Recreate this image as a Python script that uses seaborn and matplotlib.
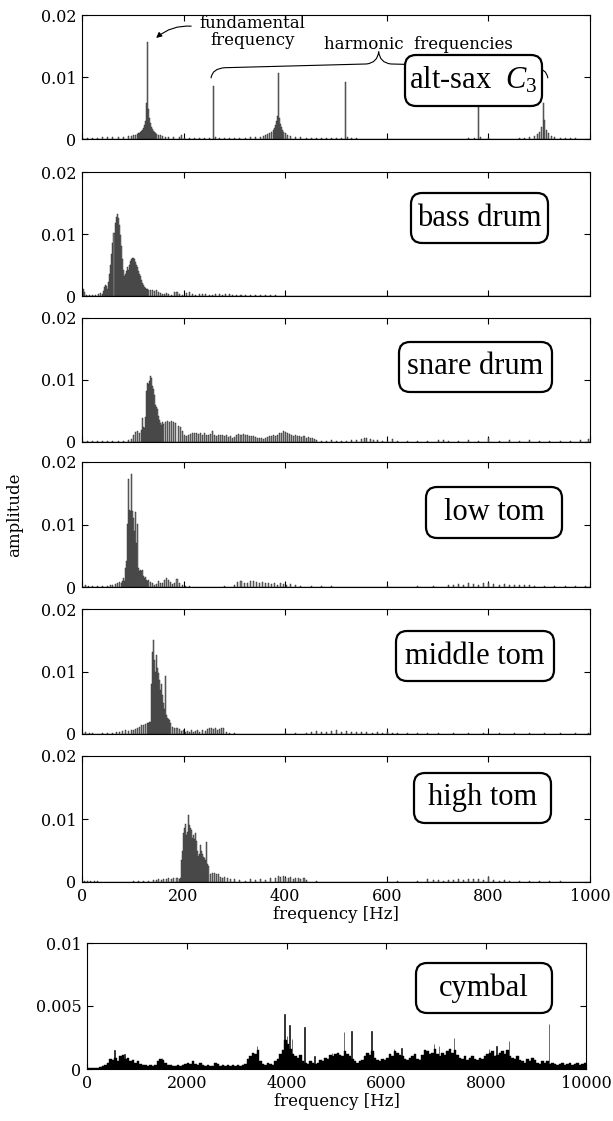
import numpy as np
import pandas as pd
import seaborn as sns
import matplotlib.pyplot as plt
from matplotlib.patches import FancyBboxPatch, PathPatch
from matplotlib.path import Path

# spectra: frequency [Hz] and amplitude in units of 1e-3

sax_freq = [0, 10, 20, 30, 40, 50, 60, 70, 80, 90,
            96, 100, 104, 108, 110, 112, 114, 116, 118, 120,
            122, 124, 126, 128, 130, 132, 134, 136, 138, 140,
            142, 144, 146, 150, 154, 158, 164, 170, 180, 190,
            194, 200, 210, 220, 230, 240, 250, 258, 262, 270,
            280, 290, 300, 310, 320, 330, 340, 350, 356, 360,
            364, 368, 372, 376, 378, 380, 382, 384, 386, 388,
            390, 392, 394, 396, 400, 404, 410, 420, 430, 440,
            450, 460, 470, 480, 490, 500, 510, 518, 522, 530,
            540, 560, 580, 600, 620, 640, 660, 680, 700, 720,
            740, 760, 772, 780, 784, 800, 820, 840, 860, 870,
            880, 890, 896, 900, 904, 908, 910, 914, 918, 924,
            930, 940, 950, 960, 970, 980, 990]
sax_amp = [0.2, 0.2, 0.2, 0.2, 0.25, 0.25, 0.3, 0.3, 0.35, 0.45,
           0.5, 0.6, 0.7, 0.8, 0.9, 1.0, 1.1, 1.3, 1.5, 1.8,
           2.2, 2.9, 5.8, 15.7, 4.8, 3.4, 2.6, 2.0, 1.6, 1.3,
           1.1, 0.9, 0.8, 0.7, 0.6, 0.5, 0.4, 0.35, 0.3, 0.25,
           0.6, 0.2, 0.15, 0.15, 0.1, 0.1, 0.1, 8.6, 0.3, 0.1,
           0.1, 0.1, 0.15, 0.15, 0.2, 0.25, 0.3, 0.4, 0.5, 0.6,
           0.8, 1.0, 1.2, 1.5, 1.8, 2.3, 2.9, 3.7, 10.7, 3.4,
           2.5, 1.9, 1.5, 1.2, 0.9, 0.7, 0.5, 0.4, 0.3, 0.2,
           0.15, 0.1, 0.1, 0.1, 0.1, 0.1, 0.2, 9.2, 0.4, 0.15,
           0.1, 0.05, 0.05, 0.05, 0.05, 0.05, 0.05, 0.05, 0.05, 0.05,
           0.05, 0.1, 0.2, 6.4, 0.3, 0.1, 0.05, 0.05, 0.1, 0.15,
           0.3, 0.5, 0.8, 1.2, 2.0, 5.8, 3.0, 1.5, 0.9, 0.5,
           0.3, 0.2, 0.15, 0.1, 0.1, 0.05, 0.05]

bass_freq = [2, 4, 8, 14, 20, 26, 32, 36, 40, 42,
             44, 46, 48, 50, 52, 54, 56, 58, 60, 62,
             64, 66, 68, 70, 72, 74, 76, 78, 80, 82,
             84, 86, 88, 90, 92, 94, 96, 98, 100, 102,
             104, 106, 108, 110, 112, 114, 116, 118, 120, 122,
             124, 126, 128, 130, 134, 138, 142, 146, 150, 154,
             158, 162, 166, 170, 176, 182, 186, 190, 196, 204,
             210, 216, 222, 230, 236, 242, 250, 256, 262, 270,
             276, 282, 290, 296, 304, 312, 320, 330, 340, 350,
             360, 370, 380]
bass_amp = [1.2, 0.6, 0.2, 0.2, 0.1, 0.2, 0.3, 0.5, 0.4, 0.8,
            1.4, 1.8, 1.6, 1.2, 2.2, 3.5, 5.0, 6.8, 8.5, 10.2,
            11.8, 12.8, 13.3, 12.6, 11.5, 9.8, 8.0, 6.0, 4.2, 3.2,
            3.5, 4.0, 4.6, 4.2, 5.0, 5.6, 6.0, 6.2, 6.1, 5.9,
            5.5, 5.0, 4.6, 4.0, 3.6, 3.2, 2.6, 2.1, 1.8, 1.5,
            1.3, 1.2, 1.1, 1.0, 0.9, 1.0, 0.8, 0.9, 0.6, 0.5,
            0.4, 0.3, 0.5, 0.3, 0.2, 0.6, 0.7, 0.4, 0.2, 0.5,
            0.6, 0.3, 0.1, 0.3, 0.4, 0.3, 0.2, 0.2, 0.3, 0.3,
            0.2, 0.3, 0.3, 0.2, 0.2, 0.2, 0.1, 0.1, 0.1, 0.1,
            0.1, 0.1, 0.1]

snare_freq = [0, 10, 20, 30, 40, 50, 60, 70, 80, 90,
              96, 100, 104, 108, 112, 116, 118, 120, 122, 124,
              126, 128, 130, 132, 134, 136, 138, 140, 142, 144,
              146, 148, 150, 152, 154, 156, 158, 160, 164, 168,
              172, 176, 180, 184, 188, 192, 196, 200, 204, 208,
              212, 216, 220, 224, 228, 232, 236, 240, 244, 248,
              252, 256, 260, 264, 268, 272, 276, 280, 284, 288,
              292, 296, 300, 304, 308, 312, 316, 320, 324, 328,
              332, 336, 340, 344, 348, 352, 356, 360, 364, 368,
              372, 376, 380, 384, 388, 392, 396, 400, 404, 408,
              412, 416, 420, 424, 428, 432, 436, 440, 444, 448,
              452, 456, 460, 470, 480, 490, 500, 510, 520, 530,
              540, 550, 556, 560, 566, 572, 580, 590, 600, 610,
              620, 640, 660, 680, 700, 710, 720, 740, 760, 780,
              800, 820, 840, 860, 880, 900, 920, 940, 960, 980, 996]
snare_amp = [0.1, 0.1, 0.1, 0.1, 0.1, 0.2, 0.2, 0.2, 0.2, 0.3,
             0.5, 1.2, 1.6, 1.8, 1.5, 2.0, 3.8, 2.4, 2.2, 4.0,
             8.2, 9.5, 9.3, 9.8, 10.6, 10.4, 9.0, 8.5, 7.6, 6.0,
             5.6, 5.4, 4.2, 3.5, 3.0, 2.8, 3.2, 2.9, 3.3, 3.4,
             3.3, 3.4, 3.2, 3.0, 2.6, 2.4, 1.8, 1.2, 1.0, 1.1,
             1.3, 1.4, 1.5, 1.4, 1.3, 1.4, 1.2, 1.5, 1.2, 1.1,
             1.3, 1.8, 1.2, 1.0, 1.1, 1.2, 1.1, 1.0, 1.2, 0.8,
             0.9, 0.7, 0.8, 1.1, 1.3, 1.2, 1.3, 1.2, 1.1, 1.0,
             0.9, 1.0, 0.8, 0.7, 0.6, 0.6, 0.5, 0.6, 0.8, 0.9,
             1.0, 1.2, 0.9, 1.1, 1.4, 1.5, 1.8, 1.6, 1.5, 1.3,
             1.1, 1.0, 1.1, 0.9, 0.9, 0.8, 1.0, 0.7, 0.8, 0.6,
             0.7, 0.5, 0.4, 0.2, 0.1, 0.3, 0.2, 0.1, 0.2, 0.3,
             0.4, 0.5, 0.6, 0.6, 0.5, 0.4, 0.3, 0.1, 0.2, 0.5,
             0.1, 0.2, 0.1, 0.1, 0.3, 0.3, 0.2, 0.2, 0.3, 0.2,
             0.6, 0.2, 0.3, 0.2, 0.3, 0.2, 0.1, 0.2, 0.2, 0.3, 0.5]

low_freq = [0, 6, 12, 20, 30, 40, 50, 56, 60, 64,
            68, 72, 76, 78, 80, 82, 84, 86, 88, 90,
            92, 94, 96, 98, 100, 102, 104, 106, 108, 110,
            112, 114, 116, 118, 120, 122, 124, 126, 128, 130,
            134, 138, 142, 146, 150, 154, 158, 162, 166, 170,
            174, 178, 182, 186, 190, 196, 202, 210, 220, 240,
            260, 280, 300, 306, 312, 318, 324, 330, 336, 342,
            348, 354, 360, 366, 372, 378, 384, 390, 396, 402,
            410, 420, 430, 450, 470, 490, 510, 540, 570, 600,
            630, 660, 690, 720, 730, 740, 750, 760, 770, 780,
            790, 800, 810, 820, 830, 840, 850, 860, 870, 880,
            890, 910, 930, 950, 970, 990]
low_amp = [0.2, 0.3, 0.2, 0.1, 0.1, 0.2, 0.2, 0.3, 0.4, 0.5,
           0.7, 0.8, 0.6, 0.9, 1.5, 1.0, 3.0, 4.2, 10.1, 17.3,
           12.3, 12.2, 18.0, 12.1, 11.0, 9.0, 12.0, 7.0, 10.1, 3.0,
           2.6, 2.8, 2.5, 2.7, 1.8, 1.5, 1.6, 1.2, 1.0, 1.1,
           0.8, 0.6, 0.4, 0.5, 1.0, 0.7, 0.6, 1.2, 1.4, 1.1,
           0.8, 0.5, 0.6, 1.3, 0.7, 0.3, 0.2, 0.1, 0.05, 0.05,
           0.05, 0.1, 0.4, 0.8, 1.0, 0.7, 0.6, 0.9, 1.0, 0.8,
           0.7, 0.8, 0.6, 0.7, 0.5, 0.6, 0.4, 0.7, 0.5, 0.4,
           0.5, 0.3, 0.2, 0.1, 0.1, 0.1, 0.05, 0.05, 0.05, 0.1,
           0.05, 0.1, 0.1, 0.3, 0.4, 0.5, 0.4, 0.6, 0.5, 0.4,
           0.6, 0.7, 0.5, 0.4, 0.5, 0.4, 0.3, 0.4, 0.3, 0.3,
           0.2, 0.1, 0.2, 0.1, 0.1, 0.1]

mid_freq = [0, 6, 14, 20, 30, 40, 50, 60, 66, 72,
            78, 84, 90, 96, 100, 104, 108, 112, 116, 120,
            124, 128, 130, 132, 134, 136, 138, 140, 142, 144,
            146, 148, 150, 152, 154, 156, 158, 160, 162, 164,
            166, 168, 170, 172, 174, 178, 182, 186, 190, 194,
            198, 202, 206, 210, 214, 218, 222, 226, 230, 236,
            242, 246, 250, 254, 258, 262, 266, 270, 274, 278,
            284, 290, 300, 320, 340, 360, 380, 400, 420, 440,
            450, 460, 470, 480, 490, 500, 510, 520, 530, 540,
            550, 560, 570, 580, 590, 600, 610, 620, 640, 660,
            680, 700, 730, 760, 790, 820, 850, 880, 910, 940, 970, 996]
mid_amp = [0.2, 0.3, 0.2, 0.1, 0.05, 0.1, 0.1, 0.2, 0.3, 0.4,
           0.5, 0.6, 0.5, 0.7, 0.6, 0.8, 1.0, 1.2, 1.4, 1.5,
           1.6, 1.8, 1.7, 2.0, 1.9, 8.0, 13.2, 15.1, 11.8, 10.0,
           12.7, 10.5, 9.8, 8.6, 7.0, 8.0, 6.2, 5.0, 4.0, 9.3,
           3.0, 2.6, 2.4, 2.2, 1.8, 1.2, 1.0, 0.9, 0.8, 0.5,
           0.6, 0.4, 0.5, 0.3, 0.6, 0.4, 0.5, 0.7, 0.4, 0.6,
           0.5, 0.8, 0.9, 1.0, 0.8, 0.9, 0.7, 0.8, 1.0, 0.9,
           0.4, 0.2, 0.1, 0.05, 0.05, 0.05, 0.05, 0.2, 0.1, 0.1,
           0.4, 0.5, 0.4, 0.3, 0.5, 0.6, 0.4, 0.5, 0.4, 0.3,
           0.4, 0.3, 0.2, 0.3, 0.2, 0.3, 0.2, 0.2, 0.1, 0.1,
           0.1, 0.1, 0.1, 0.1, 0.1, 0.1, 0.1, 0.1, 0.1, 0.1, 0.1, 0.2]

high_freq = [4, 10, 16, 24, 30, 100, 110, 120, 130, 140,
             146, 150, 156, 160, 166, 170, 176, 180, 186, 190,
             192, 194, 196, 198, 200, 202, 204, 206, 208, 210,
             212, 214, 216, 218, 220, 222, 224, 226, 228, 230,
             232, 234, 236, 238, 240, 242, 244, 246, 248, 252,
             256, 260, 264, 268, 272, 276, 280, 286, 292, 300,
             310, 320, 330, 340, 350, 360, 370, 380, 386, 390,
             396, 400, 406, 410, 416, 420, 426, 430, 436, 440,
             460, 500, 560, 620, 660, 680, 690, 700, 710, 720,
             730, 740, 750, 760, 770, 780, 790, 800, 810, 820,
             830, 840, 860, 880, 900, 920, 940, 960]
high_amp = [0.1, 0.1, 0.1, 0.1, 0.1, 0.1, 0.1, 0.2, 0.2, 0.3,
            0.3, 0.4, 0.3, 0.5, 0.4, 0.6, 0.5, 0.6, 0.6, 0.5,
            0.6, 3.5, 5.0, 7.8, 8.5, 9.2, 7.5, 8.0, 10.7, 9.0,
            8.5, 8.3, 7.0, 7.5, 6.8, 7.8, 6.5, 5.0, 4.2, 4.5,
            5.9, 5.0, 4.5, 4.0, 3.8, 3.5, 6.3, 2.8, 2.5, 1.3,
            1.4, 1.4, 1.3, 1.2, 0.8, 0.7, 0.8, 0.6, 0.5, 0.4,
            0.3, 0.2, 0.4, 0.3, 0.5, 0.3, 0.6, 0.7, 0.9, 0.8,
            0.9, 0.7, 0.6, 0.8, 0.5, 0.7, 0.6, 0.5, 0.6, 0.3,
            0.1, 0.05, 0.05, 0.1, 0.2, 0.4, 0.3, 0.3, 0.2, 0.3,
            0.3, 0.4, 0.3, 0.4, 0.5, 0.4, 0.3, 0.8, 0.3, 0.2,
            0.3, 0.2, 0.1, 0.1, 0.1, 0.1, 0.1, 0.05]

# cymbal: level of the dense part in 50 Hz bands, plus the single tall lines
cym_freq = np.arange(25, 10000, 50)
cym_amp = [0.1, 0.1, 0.1, 0.1, 0.1, 0.15, 0.2, 0.3, 0.5, 0.8, 0.7, 0.9, 0.6, 1.0, 1.1, 0.8, 0.9, 0.6, 0.7, 0.5,
           0.6, 0.4, 0.3, 0.3, 0.2, 0.3, 0.2, 0.3, 0.6, 0.8, 0.7, 0.5, 0.3, 0.3, 0.2, 0.2, 0.3, 0.2, 0.3, 0.4,
           0.5, 0.4, 0.6, 0.4, 0.3, 0.5, 0.3, 0.2, 0.3, 0.2, 0.2, 0.5, 0.4, 0.2, 0.3, 0.2, 0.3, 0.2, 0.3, 0.2,
           0.3, 0.2, 0.3, 0.4, 0.8, 1.0, 1.3, 1.2, 1.5, 0.6, 0.4, 0.3, 0.5, 0.4, 0.3, 0.6, 0.8, 1.2, 1.5, 2.3,
           2.0, 1.6, 1.2, 1.0, 0.9, 1.1, 0.6, 0.5, 0.4, 0.6, 0.5, 0.4, 0.5, 0.7, 0.6, 0.9, 0.8, 1.1, 1.0, 1.2,
           1.3, 1.1, 1.0, 1.4, 1.2, 1.0, 0.8, 0.6, 0.5, 0.6, 0.7, 1.0, 1.3, 1.1, 1.4, 0.9, 0.7, 0.6, 0.8, 0.7,
           0.9, 1.2, 1.0, 1.4, 1.3, 1.1, 1.0, 0.8, 0.7, 0.9, 1.0, 1.2, 0.8, 0.7, 1.1, 1.5, 1.4, 1.2, 1.3, 1.6,
           1.2, 1.0, 1.3, 1.1, 1.4, 1.6, 1.3, 1.5, 1.1, 0.9, 0.8, 1.0, 0.7, 0.9, 1.0, 0.8, 0.7, 0.9, 0.8, 1.0,
           1.2, 1.3, 1.4, 1.0, 1.1, 1.3, 1.4, 1.2, 1.5, 1.0, 0.9, 0.8, 1.0, 0.7, 0.6, 0.5, 0.8, 0.6, 0.9, 0.7,
           0.5, 0.4, 0.6, 0.5, 0.6, 0.4, 0.5, 0.4, 0.3, 0.4, 0.5, 0.3, 0.4, 0.5, 0.3, 0.4, 0.5, 0.3, 0.4, 0.5]
cym_spike_freq = [555, 755, 1505, 3405, 3955, 4005, 4055, 4105, 4355, 4555, 4905, 5155,
                  5305, 5705, 6155, 6305, 6955, 7055, 7355, 8055, 8205, 8455, 9255]
cym_spike_amp = [1.5, 1.2, 0.9, 1.8, 4.4, 2.6, 3.5, 2.4, 3.3, 1.0, 1.3, 2.9,
                 3.0, 3.0, 1.6, 1.7, 2.0, 1.8, 2.5, 1.6, 1.8, 2.2, 3.6]

instruments = ["alt-sax  $C_3$", "bass drum", "snare drum", "low tom", "middle tom", "high tom"]
spectra = [(sax_freq, sax_amp), (bass_freq, bass_amp), (snare_freq, snare_amp),
           (low_freq, low_amp), (mid_freq, mid_amp), (high_freq, high_amp)]

# setting up the look
sns.set_theme(style="ticks", rc={"axes.linewidth": 0.8, "xtick.direction": "in",
                                 "ytick.direction": "in"})
plt.rcParams["font.family"] = ["DejaVu Serif"]
plt.rcParams["text.color"] = "black"
plt.rcParams["axes.labelcolor"] = "black"
plt.rcParams["mathtext.fontset"] = "custom"
plt.rcParams["mathtext.it"] = "Liberation Serif:italic"
plt.rcParams["mathtext.rm"] = "Liberation Serif"

fig = plt.figure(figsize=(6.13, 11.21), dpi=100)

# panel frames in pixels (top, bottom) of the 613x1121 picture
panel_rows = [(15, 139), (172, 296), (318, 442), (462, 587), (609, 734), (756, 882)]
# label boxes in pixels (left, top, right, bottom)
boxes = [(405, 55, 542, 106), (411, 193, 548, 243), (399, 342, 552, 392),
         (426, 487, 562, 538), (396, 631, 554, 681), (414, 773, 551, 823),
         (416, 963, 552, 1013)]


def label_box(px, text):
    x0, y0, x1, y1 = px
    patch = FancyBboxPatch((x0 / 100, (1121 - y1) / 100), (x1 - x0) / 100, (y1 - y0) / 100,
                           boxstyle="round,pad=0,rounding_size=0.11",
                           transform=fig.dpi_scale_trans, facecolor="white",
                           edgecolor="black", linewidth=1.6, zorder=5)
    fig.add_artist(patch)
    fig.text((x0 + x1) / 200, (1121 - (y0 + y1) / 2) / 100, text,
             transform=fig.dpi_scale_trans, ha="center", va="center",
             fontsize=22, family="Liberation Serif", color="black", zorder=6)


def style_axes(ax):
    ax.tick_params(direction="in", top=True, right=True, length=4, width=0.8,
                   labelsize=11.5, pad=4, colors="black")
    for s in ax.spines.values():
        s.set_visible(True)
        s.set_color("black")
        s.set_linewidth(0.8)
    ax.set_ylabel("")
    ax.set_xlabel("")


axes = []
for i, ((top, bottom), (f, a)) in enumerate(zip(panel_rows, spectra)):
    ax = fig.add_axes([82 / 613, 1 - bottom / 1121, 508 / 613, (bottom - top) / 1121])
    df = pd.DataFrame({"freq": f, "amp": np.array(a) * 1e-3})
    sns.histplot(data=df, x="freq", weights="amp", binwidth=2, binrange=(0, 1000),
                 color="0.5", edgecolor="0.1", linewidth=0.3, alpha=1, ax=ax)
    ax.set_xlim(0, 1000)
    ax.set_ylim(0, 0.02)
    ax.set_xticks([0, 200, 400, 600, 800, 1000])
    ax.set_yticks([0, 0.01, 0.02])
    ax.set_yticklabels(["0", "0.01", "0.02"])
    style_axes(ax)
    if i < 5:
        ax.set_xticklabels([])
    else:
        ax.set_xlabel("frequency [Hz]", fontsize=12, labelpad=1)
    axes.append(ax)

# cymbal panel with its own scale
ax7 = fig.add_axes([87 / 613, 1 - 1069 / 1121, 499 / 613, 126 / 1121])
cym = pd.DataFrame({"freq": cym_freq, "amp": np.array(cym_amp) * 1e-3})
spikes = pd.DataFrame({"freq": cym_spike_freq, "amp": np.array(cym_spike_amp) * 1e-3})
sns.histplot(data=cym, x="freq", weights="amp", binwidth=50, binrange=(0, 10000),
             color="black", edgecolor="black", linewidth=0.3, alpha=1, ax=ax7)
sns.histplot(data=spikes, x="freq", weights="amp", binwidth=10, binrange=(0, 10000),
             color="black", edgecolor="black", linewidth=0.4, alpha=1, ax=ax7)
ax7.set_xlim(0, 10000)
ax7.set_ylim(0, 0.01)
ax7.set_xticks([0, 2000, 4000, 6000, 8000, 10000])
ax7.set_yticks([0, 0.005, 0.01])
ax7.set_yticklabels(["0", "0.005", "0.01"])
style_axes(ax7)
ax7.set_xlabel("frequency [Hz]", fontsize=12, labelpad=1)

# annotations on the sax spectrum
ax1 = axes[0]
ax1.text(335, 0.0172, "fundamental\nfrequency", ha="center", va="center",
         fontsize=12, linespacing=1.0)
ax1.annotate("", xy=(146, 0.0163), xytext=(215, 0.0182),
             arrowprops=dict(arrowstyle="-|>", lw=0.8, color="black", mutation_scale=8,
                             connectionstyle="arc3,rad=0.2", shrinkA=0, shrinkB=0))
ax1.text(663, 0.0152, "harmonic  frequencies", ha="center", va="center", fontsize=12)
brace = Path([(254, 0.0098), (256, 0.0114), (282, 0.0115), (560, 0.0121),
              (582, 0.0123), (584, 0.0141), (586, 0.0123), (608, 0.0121),
              (890, 0.0115), (915, 0.0114), (917, 0.0098)],
             [Path.MOVETO, Path.CURVE3, Path.CURVE3, Path.LINETO,
              Path.CURVE3, Path.CURVE3, Path.CURVE3, Path.CURVE3,
              Path.LINETO, Path.CURVE3, Path.CURVE3])
ax1.add_patch(PathPatch(brace, facecolor="none", edgecolor="black", lw=0.8))

for px, name in zip(boxes, instruments + ["cymbal"]):
    label_box(px, name)

fig.text(15 / 613, 1 - 515 / 1121, "amplitude", rotation=90, ha="center", va="center",
         fontsize=12)

fig.savefig("out.png", dpi=100)
